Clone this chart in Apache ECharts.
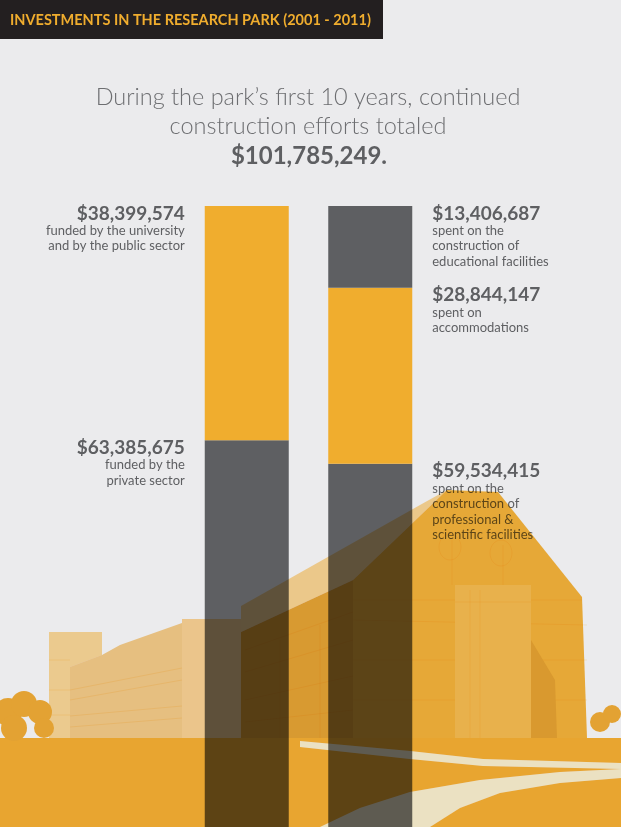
<!DOCTYPE html>
<html>
<head>
<meta charset="utf-8">
<script src="https://cdn.jsdelivr.net/npm/echarts@6/dist/echarts.min.js"></script>
<style>
	html, body { margin: 0; padding: 0; background: #ebebed; }
	#chart { width: 621px; height: 827px; }
</style>
</head>
<body>
<div id="chart"></div>
<script>
'use strict';
// two stacked columns: where the money came from / where it went
var categories = ['Funding', 'Spending'];
var lowerValues = [63385675, 59534415];
var middleValues = [38399574, 28844147];
var upperValues = ['-', 13406687];

var lowerNotes = [
	['funded by the', 'private sector'],
	['spent on the', 'construction of', 'professional &', 'scientific facilities']
];
var middleNotes = [
	['funded by the university', 'and by the public sector'],
	['spent on', 'accommodations']
];
var upperNotes = [
	[],
	['spent on the', 'construction of', 'educational facilities']
];

var headerText = 'INVESTMENTS IN THE RESEARCH PARK (2001 - 2011)';
var headline = ['During the park\u2019s first 10 years, continued', 'construction efforts totaled'];
var total = lowerValues[0] + middleValues[0];

var GRAY = '#5e5f62';
var ORANGE = '#f0ad2e';
var FONT = 'Lato, "Open Sans", sans-serif';

function money(v) {
	return '$' + String(v).replace(/\B(?=(\d{3})+(?!\d))/g, ',');
}

function makeLabel(notes) {
	return function (p) {
		var lines = ['{v|' + money(p.value) + '}'];
		notes[p.dataIndex].forEach(function (t) {
			lines.push('{d|' + t + '}');
		});
		return lines.join('\n');
	};
}

function labelFor(notes, idx) {
	var left = idx === 0;
	return {
		show: true,
		position: left ? [-20, -2] : [104, -2],
		align: left ? 'right' : 'left',
		verticalAlign: 'top',
		formatter: makeLabel(notes),
		rich: {
			v: { fontFamily: FONT, fontSize: 19, fontWeight: 'bold', color: GRAY, lineHeight: 19, align: left ? 'right' : 'left' },
			d: { fontFamily: FONT, fontSize: 13, color: GRAY, lineHeight: 15.5, align: left ? 'right' : 'left' }
		}
	};
}

function items(values, notes) {
	return values.map(function (v, i) {
		return { value: v, label: labelFor(notes, i) };
	});
}

// building photo, roughly traced; multiplied over the bars like the print.
// shapes are kept from overlapping each other so the multiply stays flat
var M = 'multiply';
function poly(pts, fill, blend) {
	return { type: 'polygon', z: 50, silent: true, shape: { points: pts }, style: { fill: fill, blend: blend === false ? 'source-over' : M } };
}
function band(x1, y1, x2, y2, w) {
	return { type: 'line', z: 52, silent: true, shape: { x1: x1, y1: y1, x2: x2, y2: y2 }, style: { stroke: '#fff3d6', lineWidth: w || 1.2, blend: M } };
}
function tree(cx, cy, r) {
	return { type: 'circle', z: 53, silent: true, shape: { cx: cx, cy: cy, r: r }, style: { fill: '#e3a233' } };
}

var GROUND_Y = 738;
var building = [
	// left wing
	poly([[49, 632], [102, 632], [102, 655], [70, 667], [70, GROUND_Y], [49, GROUND_Y]], '#ffdb99'),
	poly([[70, 667], [102, 655], [120, 645], [182, 623], [182, GROUND_Y], [70, GROUND_Y]], '#fad08a'),
	poly([[182, 619], [241, 619], [241, GROUND_Y], [182, GROUND_Y]], '#ffd696'),
	band(70, 690, 182, 668), band(70, 700, 182, 680), band(70, 716, 182, 706), band(70, 727, 182, 718),
	band(49, 660, 70, 660, 1), band(49, 690, 70, 690, 1), band(49, 715, 70, 715, 1),
	// long wing roof + wall
	poly([[241, 606], [420, 505], [447, 490], [353, 580], [241, 632]], '#ffd995'),
	poly([[241, 632], [353, 580], [353, GROUND_Y], [241, GROUND_Y]], '#eba734'),
	band(245, 650, 353, 612), band(245, 672, 353, 640), band(245, 700, 353, 676), band(245, 722, 353, 710),
	band(280, 640, 280, GROUND_Y, 1), band(320, 625, 320, GROUND_Y, 1),
	// gable front
	poly([[353, 580], [447, 490], [498, 492], [582, 597], [587, GROUND_Y], [353, GROUND_Y]], '#fab73b'),
	band(353, 600, 582, 600), band(353, 620, 587, 625), band(353, 660, 587, 660), band(353, 700, 587, 700),
	band(452, 540, 452, 585, 1), band(503, 545, 503, 585, 1),
	{ type: 'ellipse', z: 52, silent: true, shape: { cx: 450, cy: 547, rx: 11, ry: 13 }, style: { fill: 'none', stroke: '#fff3d6', lineWidth: 1, blend: M } },
	{ type: 'ellipse', z: 52, silent: true, shape: { cx: 501, cy: 553, rx: 11, ry: 13 }, style: { fill: 'none', stroke: '#fff3d6', lineWidth: 1, blend: M } },
	// ground, cut around the two walkways
	poly([[0, GROUND_Y], [621, GROUND_Y], [621, 763], [483, 759], [410, 751], [300, 741], [300, 747], [410, 759], [483, 766], [621, 769],
		[560, 772], [480, 780], [410, 792], [360, 808], [320, 827], [0, 827]], '#fcb333'),
	poly([[430, 827], [460, 808], [500, 793], [560, 783], [621, 778], [621, 827]], '#fcb333'),
	poly([[300, 741], [410, 751], [483, 759], [621, 763], [621, 769], [483, 766], [410, 759], [300, 747]], '#fff5d1'),
	poly([[621, 769], [560, 772], [480, 780], [410, 792], [360, 808], [320, 827], [430, 827], [460, 808], [500, 793], [560, 783], [621, 778]], '#fff5d1'),
	// tower in front of the gable (clear of the bars, drawn flat on top)
	{ type: 'polygon', z: 54, silent: true, shape: { points: [[455, 585], [531, 585], [531, GROUND_Y], [455, GROUND_Y]] }, style: { fill: '#e8b14c' } },
	{ type: 'polygon', z: 54, silent: true, shape: { points: [[531, 640], [555, 680], [557, GROUND_Y], [531, GROUND_Y]] }, style: { fill: '#d9992f' } },
	band(455, 602, 531, 602), band(470, 590, 470, GROUND_Y, 1), band(480, 590, 480, GROUND_Y, 1),
	// trees
	tree(8, 712, 14), tree(24, 704, 13), tree(40, 712, 12), tree(14, 728, 13), tree(44, 728, 10),
	tree(600, 722, 10), tree(612, 714, 9)
];
building.forEach(function (el) {
	if (el.type === 'line' && el.z === 52 && el.shape.x1 >= 455 && el.shape.x1 <= 531) el.z = 55;
});

var myChart = echarts.init(document.getElementById('chart'), null, { renderer: 'canvas' });
var option = {
	backgroundColor: '#ebebed',
	animation: false,
	grid: {
		left: 185,
		right: 189,
		top: 206,
		bottom: 0
	},
	xAxis: [{
		type: 'category',
		data: categories,
		show: false
	}],
	yAxis: [{
		type: 'value',
		min: 0,
		max: total,
		show: false
	}],
	series: [{
		name: 'lower',
		type: 'bar',
		stack: 'total',
		barWidth: 84,
		itemStyle: { color: GRAY },
		data: items(lowerValues, lowerNotes)
	}, {
		name: 'middle',
		type: 'bar',
		stack: 'total',
		barWidth: 84,
		itemStyle: { color: ORANGE },
		data: items(middleValues, middleNotes)
	}, {
		name: 'upper',
		type: 'bar',
		stack: 'total',
		barWidth: 84,
		itemStyle: { color: GRAY },
		data: items(upperValues, upperNotes)
	}],
	graphic: [{
		type: 'group',
		children: building
	}, {
		type: 'rect',
		z: 60,
		shape: { x: 0, y: 0, width: 383, height: 39 },
		style: { fill: '#231f20' }
	}, {
		type: 'text',
		z: 61,
		x: 10,
		y: 20,
		style: {
			text: headerText,
			fill: ORANGE,
			font: 'bold 14.5px ' + FONT,
			verticalAlign: 'middle'
		}
	}, {
		type: 'text',
		z: 61,
		x: 308,
		y: 97,
		style: {
			text: headline[0],
			fill: '#6d6e71',
			font: '300 23.5px ' + FONT,
			align: 'center',
			verticalAlign: 'middle'
		}
	}, {
		type: 'text',
		z: 61,
		x: 308,
		y: 126,
		style: {
			text: headline[1],
			fill: '#6d6e71',
			font: '300 23.5px ' + FONT,
			align: 'center',
			verticalAlign: 'middle'
		}
	}, {
		type: 'text',
		z: 61,
		x: 309,
		y: 156,
		style: {
			text: money(total) + '.',
			fill: GRAY,
			font: 'bold 24px ' + FONT,
			align: 'center',
			verticalAlign: 'middle'
		}
	}]
};
myChart.setOption(option);
</script>
</body>
</html>
